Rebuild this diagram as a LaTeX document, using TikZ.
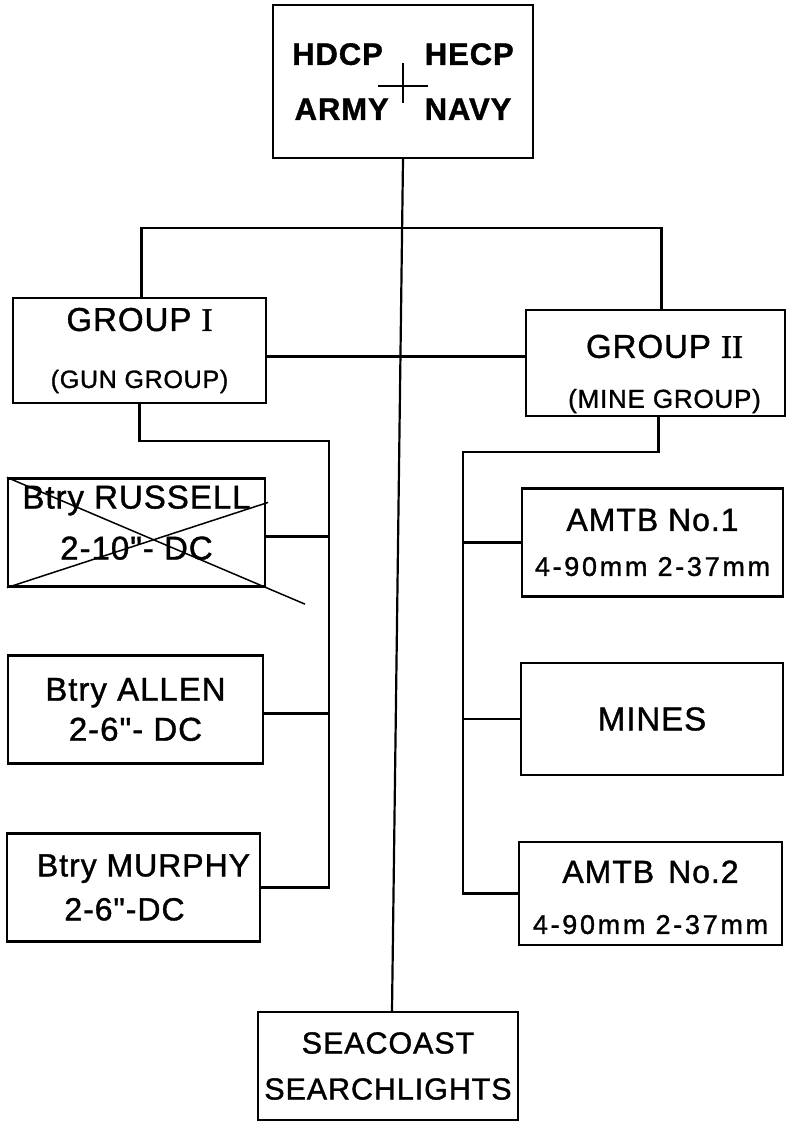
\documentclass[tikz,border=0pt]{standalone}
\usepackage{fontspec}
\setmainfont{Liberation Sans}[LetterSpace=3,Ligatures=TeXOff,RawFeature={embolden=1.2}]
\newfontfamily\numfont{Liberation Serif}[RawFeature={embolden=1.2}]
\usetikzlibrary{calc}

\begin{document}
\begin{tikzpicture}[x=1pt,y=-1pt,
    unitbox/.style={draw,line width=2.2pt,align=center,inner sep=0pt},
    wire/.style={line width=2.2pt},
  ]
    \pgfmathsetmacro{\boxw}{258}
    \pgfmathsetmacro{\boxh}{108}
    \providecommand{\gunsize}{\fontsize{27}{45}\selectfont\addfontfeatures{LetterSpace=10}}
    \useasboundingbox (0,0) rectangle (789,1124);
    % command posts
    \node[unitbox,minimum width=260pt,minimum height=153pt,font=\bfseries\fontsize{31}{55}\selectfont] (hq) at (403,81.5)
        {HDCP\hspace{42pt}HECP\\ARMY\hspace{36pt}NAVY};
    \draw[wire] ($(hq.center)+(-25,4.5)$) -- +(50,0);
    \draw[wire] ($(hq.center)+(0,-18.5)$) -- +(0,40);
    \node[unitbox,minimum width=253pt,minimum height=105pt,font=\fontsize{33}{57}\selectfont] (gun) at (139.5,350.5)
        {GROUP\hspace{10pt}{\numfont I}\\{\fontsize{25}{57}\selectfont (GUN GROUP)}};
    \node[unitbox,minimum width=259pt,minimum height=106pt,font=\fontsize{33}{50}\selectfont] (mine) at (655.5,363)
        {\hspace*{18pt}\rule{0pt}{45pt}GROUP\hspace{10pt}{\numfont II}\\\hspace*{18pt}{\fontsize{26}{50}\selectfont (MINE GROUP)}};
    % gun group batteries
    \node[unitbox,minimum width=257pt,minimum height=\boxh pt,font=\fontsize{33}{51}\selectfont] (russell) at (136.5,532.5)
        {Btry RUSSELL\\2-10"- DC\rule[-20pt]{0pt}{1pt}};
    \node[unitbox,minimum width=255pt,minimum height=\boxh pt,font=\fontsize{33}{40}\selectfont] (allen) at (135.5,709.5)
        {Btry ALLEN\\2-6"- DC};
    \node[unitbox,minimum width=253pt,minimum height=\boxh pt,font=\fontsize{32}{44}\selectfont] (murphy) at (133.5,887.5)
        {\hspace*{20pt}Btry MURPHY\\2-6"-DC\hspace*{18pt}};
    % mine group units
    \node[unitbox,minimum width=261pt,minimum height=\boxh pt,font=\fontsize{32}{45}\selectfont] (amtbone) at (652.5,542.5)
        {AMTB No.1\\{\gunsize 4-90mm 2-37mm}};
    \node[unitbox,minimum width=262pt,minimum height=112pt,font=\fontsize{33}{40}\selectfont] (mines) at (652,719)
        {MINES};
    \node[unitbox,minimum width=263pt,minimum height=103pt,font=\fontsize{32}{51}\selectfont] (amtbtwo) at (650.5,893.5)
        {\rule{0pt}{30pt}AMTB\hspace{14pt}No.2\\{\gunsize 4-90mm 2-37mm}};
    \node[unitbox,minimum width=260pt,minimum height=\boxh pt,font=\fontsize{30.5}{46}\selectfont] (lights) at (388,1066)
        {SEACOAST\\SEARCHLIGHTS};
    % connectors
    \coordinate (bar) at (400,228);
    \coordinate (gunbus) at (329,441);
    \coordinate (minebus) at (463,452);
    \draw[wire] (hq.south) -- ([xshift=4pt]lights.north);
    \draw[wire] ([xshift=2pt]gun.north) |- (bar) -| ([xshift=6pt]mine.north);
    \draw[wire] ([yshift=-6pt]gun.east) -- ([yshift=-6pt]gun.east -| mine.west);
    \draw[wire] (gun.south) |- (gunbus) |- (murphy.east);
    \draw[wire] ([yshift=-4pt]russell.east) -- ([yshift=-4pt]russell.east -| gunbus);
    \draw[wire] ([yshift=-4pt]allen.east) -- ([yshift=-4pt]allen.east -| gunbus);
    \draw[wire] ([xshift=3pt]mine.south) |- (minebus) |- (amtbtwo.west);
    \draw[wire] (amtbone.west) -- (amtbone.west -| minebus);
    \draw[wire] (mines.west) -- (mines.west -| minebus);
    % struck out battery
    \draw[line width=1.5pt] (russell.north west) -- ($(russell.north west)!1.15!(russell.south east)$);
    \draw[line width=1.5pt] (russell.south west) -- ($(russell.north east)+(2,25)$);
\end{tikzpicture}
\end{document}
